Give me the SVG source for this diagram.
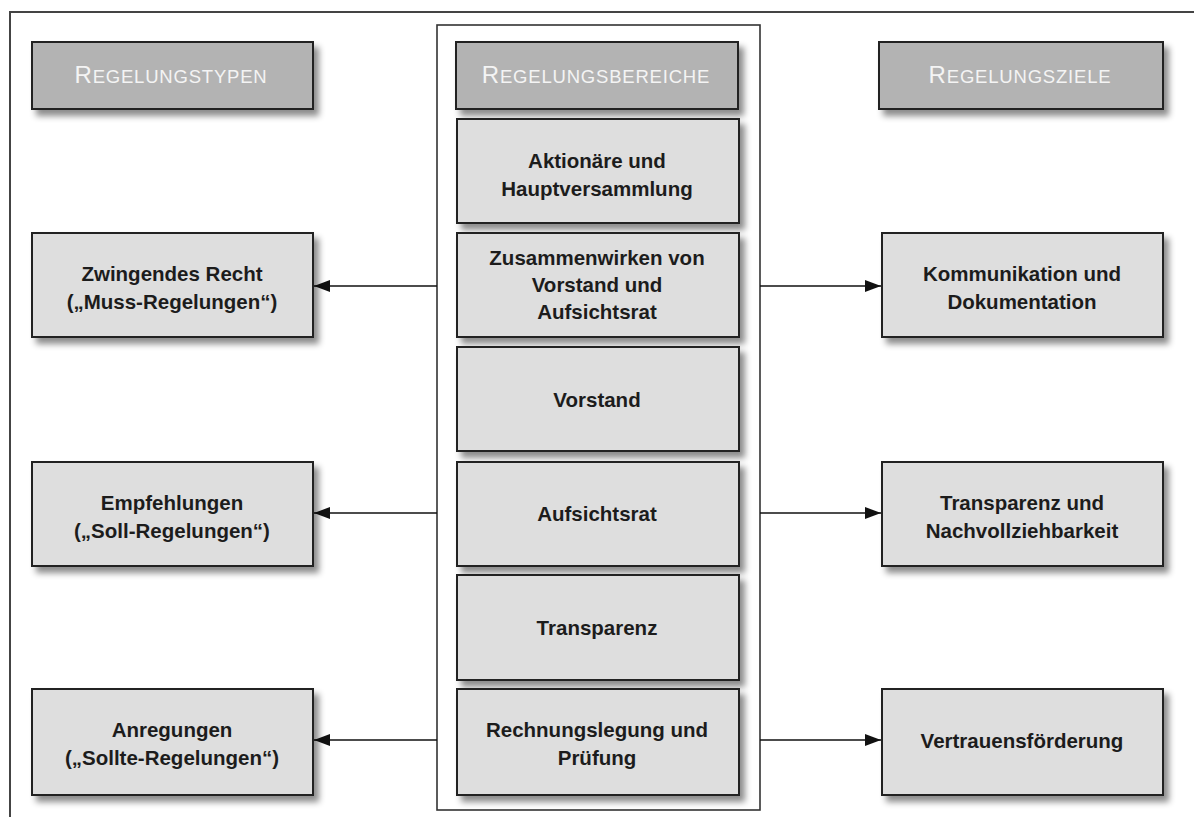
<svg xmlns="http://www.w3.org/2000/svg" width="1194" height="817" viewBox="0 0 1194 817">
<defs>
<filter id="sh" x="-10%" y="-10%" width="130%" height="140%">
<feDropShadow dx="5" dy="6" stdDeviation="3" flood-color="#000" flood-opacity="0.45"/>
</filter>
<marker id="ah" viewBox="0 0 16 12" refX="16" refY="6" markerWidth="16" markerHeight="12" markerUnits="userSpaceOnUse" orient="auto">
<path d="M0,0 L16,6 L0,12 z" fill="#111"/>
</marker>
<style>
.box{fill:#dedede;stroke:#222;stroke-width:2;filter:url(#sh)}
.hdr{fill:#b3b3b3;stroke:#222;stroke-width:2;filter:url(#sh)}
.t{font-family:"Liberation Sans",Arial,sans-serif;font-weight:bold;font-size:20.5px;fill:#1c1c1c;text-anchor:middle}
.h{font-family:"Liberation Sans",Arial,sans-serif;font-size:18.5px;fill:#f4f4f4;text-anchor:middle;letter-spacing:0.8px}
.h .c{font-size:24px}
.con{stroke:#111;stroke-width:1.6;fill:none;marker-end:url(#ah)}
</style>
</defs>
<rect width="1194" height="817" fill="#fff"/>
<path d="M10,817 V12 H1194" fill="none" stroke="#444" stroke-width="2"/>
<rect x="437" y="25" width="323" height="785" fill="none" stroke="#333" stroke-width="1.6"/>

<g id="connectors">
<line class="con" x1="437" y1="286" x2="314" y2="286"/>
<line class="con" x1="437" y1="513" x2="314" y2="513"/>
<line class="con" x1="437" y1="740" x2="314" y2="740"/>
<line class="con" x1="760" y1="286" x2="881" y2="286"/>
<line class="con" x1="760" y1="513" x2="881" y2="513"/>
<line class="con" x1="760" y1="740" x2="881" y2="740"/>
</g>

<g id="hdr-typen">
<rect class="hdr" x="32" y="42" width="281" height="67"/>
<text class="h" x="171" y="83"><tspan class="c">R</tspan>EGELUNGSTYPEN</text>
</g>
<g id="hdr-bereiche">
<rect class="hdr" x="456" y="42" width="282" height="67"/>
<text class="h" x="596" y="83"><tspan class="c">R</tspan>EGELUNGSBEREICHE</text>
</g>
<g id="hdr-ziele">
<rect class="hdr" x="879" y="42" width="284" height="67"/>
<text class="h" x="1020" y="83"><tspan class="c">R</tspan>EGELUNGSZIELE</text>
</g>

<g id="zwingend">
<rect class="box" x="32" y="233" width="281" height="104"/>
<text class="t" x="172" y="281">Zwingendes Recht</text>
<text class="t" x="172" y="309">(„Muss-Regelungen“)</text>
</g>
<g id="empfehlungen">
<rect class="box" x="32" y="462" width="281" height="104"/>
<text class="t" x="172" y="510">Empfehlungen</text>
<text class="t" x="172" y="538">(„Soll-Regelungen“)</text>
</g>
<g id="anregungen">
<rect class="box" x="32" y="689" width="281" height="106"/>
<text class="t" x="172" y="737">Anregungen</text>
<text class="t" x="172" y="765">(„Sollte-Regelungen“)</text>
</g>

<g id="aktionaere">
<rect class="box" x="457" y="119" width="282" height="104"/>
<text class="t" x="597" y="168">Aktionäre und</text>
<text class="t" x="597" y="196">Hauptversammlung</text>
</g>
<g id="zusammenwirken">
<rect class="box" x="457" y="233" width="282" height="104"/>
<text class="t" x="597" y="265">Zusammenwirken von</text>
<text class="t" x="597" y="292">Vorstand und</text>
<text class="t" x="597" y="319">Aufsichtsrat</text>
</g>
<g id="vorstand">
<rect class="box" x="457" y="347" width="282" height="104"/>
<text class="t" x="597" y="407">Vorstand</text>
</g>
<g id="aufsichtsrat">
<rect class="box" x="457" y="462" width="282" height="104"/>
<text class="t" x="597" y="521">Aufsichtsrat</text>
</g>
<g id="transparenz">
<rect class="box" x="457" y="575" width="282" height="105"/>
<text class="t" x="597" y="635">Transparenz</text>
</g>
<g id="rechnungslegung">
<rect class="box" x="457" y="689" width="282" height="106"/>
<text class="t" x="597" y="737">Rechnungslegung und</text>
<text class="t" x="597" y="765">Prüfung</text>
</g>

<g id="kommunikation">
<rect class="box" x="882" y="233" width="281" height="104"/>
<text class="t" x="1022" y="281">Kommunikation und</text>
<text class="t" x="1022" y="309">Dokumentation</text>
</g>
<g id="transparenz-ziel">
<rect class="box" x="882" y="462" width="281" height="104"/>
<text class="t" x="1022" y="510">Transparenz und</text>
<text class="t" x="1022" y="538">Nachvollziehbarkeit</text>
</g>
<g id="vertrauen">
<rect class="box" x="882" y="689" width="281" height="106"/>
<text class="t" x="1022" y="748">Vertrauensförderung</text>
</g>
</svg>
